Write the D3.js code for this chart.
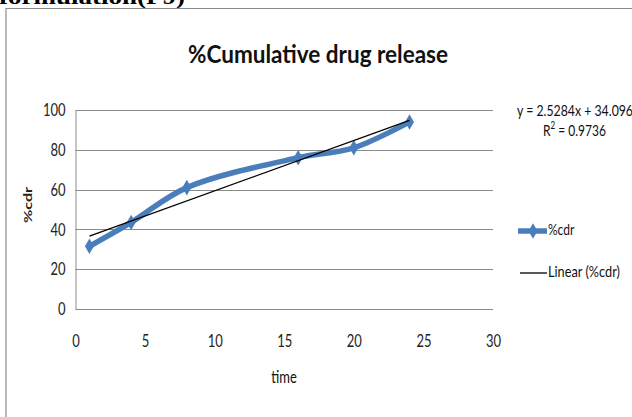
<!DOCTYPE html>
<html><head><meta charset="utf-8">
<script src="https://cdn.jsdelivr.net/npm/d3@7/dist/d3.min.js"></script>
<style>
html,body{margin:0;padding:0;background:#fff;overflow:hidden}
svg{display:block}
</style></head>
<body>
<script>
// ---- data ----
const times = [1, 4, 8, 16, 20, 24];
const cdr = [31.5, 43.5, 61, 76, 81, 94];
const xTicks = [0, 5, 10, 15, 20, 25, 30];
const yTicks = [0, 20, 40, 60, 80, 100];
const trendSlope = 2.5284;
const trendIntercept = 34.096;
const trendR2 = 0.9736;
const titleText = "%Cumulative drug release";
const captionText = "formulation(F9)";
const seriesName = "%cdr";
const trendName = "Linear (%cdr)";
const xTitle = "time";
const yTitle = "%cdr";

const W = 632, H = 417;
const SY = 1.35; // vertical stretch of the original picture's text
const blue = "#4a7ebb";
const font = "Lato, 'Open Sans', sans-serif";

const svg = d3.select("body").append("svg").attr("width", W).attr("height", H);
svg.append("rect").attr("width", W).attr("height", H).attr("fill", "#fff");

// caption cut at top
svg.append("text").attr("x", -1).attr("y", 4)
  .attr("font-family", "'Liberation Serif', serif").attr("font-weight", "bold")
  .attr("font-size", 22).attr("textLength", 186).attr("lengthAdjust", "spacingAndGlyphs")
  .attr("fill", "#000").text(captionText);

// chart frame
svg.append("path").attr("d", `M6,${H} L6,8.5 L${W},8.5`).attr("fill", "none")
  .attr("stroke", "#8c8c8c").attr("stroke-width", 1.2);

const x = d3.scaleLinear().domain([0, 30]).range([75.5, 493]);
const y = d3.scaleLinear().domain([0, 100]).range([309, 110]);

// gridlines
svg.append("g").selectAll("line").data(yTicks).join("line")
  .attr("x1", x(0)).attr("x2", x(30))
  .attr("y1", d => Math.round(y(d)) + 0.5).attr("y2", d => Math.round(y(d)) + 0.5)
  .attr("stroke", "#8a8a8a").attr("stroke-width", 1);

// y axis
const yAxis = svg.append("g").attr("transform", `translate(${x(0)},0)`)
  .call(d3.axisLeft(y).tickValues(yTicks).tickSize(0).tickPadding(10));
yAxis.select(".domain").attr("stroke", "#8a8a8a");
yAxis.selectAll("text").attr("font-family", font).attr("font-size", 13).attr("fill", "#222")
  .attr("transform", `scale(1,${SY})`);

// x axis
const xAxis = svg.append("g").attr("transform", `translate(0,${y(0)})`)
  .call(d3.axisBottom(x).tickValues(xTicks).tickSize(0).tickPadding(0));
xAxis.select(".domain").remove();
xAxis.selectAll("text").attr("font-family", font).attr("font-size", 13).attr("fill", "#222")
  .attr("dy", null).attr("y", 0)
  .attr("transform", `translate(0,34) scale(1,${SY})`).attr("dominant-baseline", "middle");

// title
svg.append("text").attr("transform", `translate(318,63) scale(1,${SY})`)
  .attr("text-anchor", "middle").attr("font-family", font).attr("font-weight", "bold")
  .attr("font-size", 18.5).attr("textLength", 260).attr("lengthAdjust", "spacingAndGlyphs")
  .attr("fill", "#111").text(titleText);

// axis titles
svg.append("text").attr("transform", `translate(284,383) scale(1,${SY})`)
  .attr("text-anchor", "middle").attr("font-family", font).attr("font-size", 13)
  .attr("fill", "#111").text(xTitle);
svg.append("text").attr("transform", `translate(32,205) rotate(-90) scale(${SY},1)`)
  .attr("text-anchor", "middle").attr("font-family", font).attr("font-weight", "bold")
  .attr("font-size", 12).attr("fill", "#222").text(yTitle);

// series
const pts = times.map((t, i) => [t, cdr[i]]);
svg.append("path").datum(pts)
  .attr("d", d3.line().x(d => x(d[0])).y(d => y(d[1])).curve(d3.curveCatmullRom.alpha(0.5)))
  .attr("fill", "none").attr("stroke", blue).attr("stroke-width", 5.5)
  .attr("stroke-linecap", "round").attr("stroke-linejoin", "round");

const diamond = d3.symbol().type(d3.symbolDiamond).size(70);
svg.append("g").selectAll("path").data(pts).join("path")
  .attr("transform", d => `translate(${x(d[0])},${y(d[1])})`)
  .attr("d", diamond).attr("fill", blue);

// trend line
const tx = [times[0], times[times.length - 1]];
svg.append("line")
  .attr("x1", x(tx[0])).attr("y1", y(trendSlope * tx[0] + trendIntercept))
  .attr("x2", x(tx[1])).attr("y2", y(trendSlope * tx[1] + trendIntercept))
  .attr("stroke", "#000").attr("stroke-width", 1.3);

// equation
svg.append("text").attr("transform", `translate(517,116) scale(1,${SY})`)
  .attr("font-family", font).attr("font-size", 12).attr("fill", "#111")
  .attr("textLength", 116).attr("lengthAdjust", "spacingAndGlyphs")
  .text(`y = ${trendSlope}x + ${trendIntercept}`);
const r2 = svg.append("text").attr("transform", `translate(543,136) scale(1,${SY})`)
  .attr("font-family", font).attr("font-size", 12).attr("fill", "#111");
r2.append("tspan").text("R");
r2.append("tspan").attr("font-size", 8).attr("dy", -5).text("2");
r2.append("tspan").attr("dy", 5).text(` = ${trendR2}`);

// legend
const lg = svg.append("g");
lg.append("line").attr("x1", 518).attr("x2", 547).attr("y1", 231).attr("y2", 231)
  .attr("stroke", blue).attr("stroke-width", 5.5);
lg.append("path").attr("transform", "translate(533,231)").attr("d", diamond).attr("fill", blue);
lg.append("text").attr("transform", `translate(548,231) scale(1,${SY})`)
  .attr("dominant-baseline", "middle").attr("font-family", font).attr("font-size", 12)
  .attr("fill", "#111").text(seriesName);
lg.append("line").attr("x1", 520).attr("x2", 547).attr("y1", 273).attr("y2", 273)
  .attr("stroke", "#000").attr("stroke-width", 1.3);
lg.append("text").attr("transform", `translate(548,273) scale(1,${SY})`)
  .attr("dominant-baseline", "middle").attr("font-family", font).attr("font-size", 12)
  .attr("textLength", 72).attr("lengthAdjust", "spacingAndGlyphs")
  .attr("fill", "#111").text(trendName);
</script>
</body></html>
